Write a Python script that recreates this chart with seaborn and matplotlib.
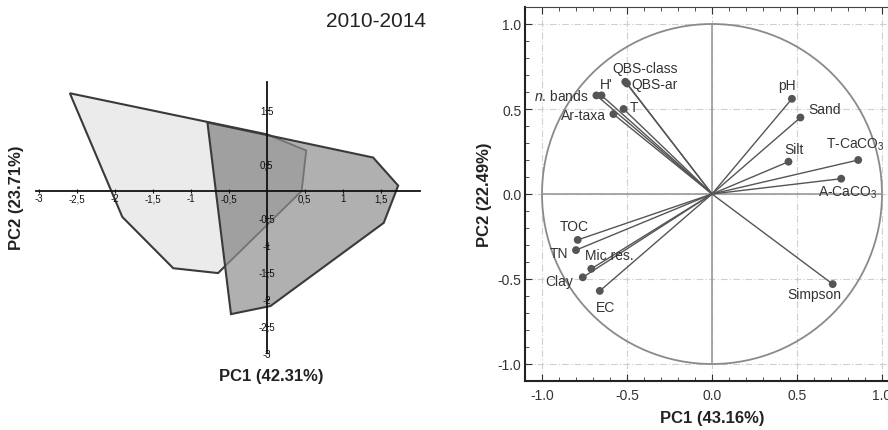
import matplotlib
matplotlib.use("Agg")
import matplotlib.pyplot as plt
import seaborn as sns
from matplotlib.patches import Polygon, Circle
from matplotlib.ticker import FuncFormatter, MultipleLocator

# hull vertices of the two groups (left panel, PC scores)
hull_a_x = [-2.59, 0.0, 0.52, 0.46, -0.64, -1.23, -1.90]
hull_a_y = [1.81, 1.05, 0.75, 0.0, -1.52, -1.43, -0.48]
hull_b_x = [-0.78, 1.40, 1.73, 1.54, 0.05, -0.47]
hull_b_y = [1.27, 0.62, 0.10, -0.59, -2.13, -2.28]

left_xticks = [-3, -2.5, -2, -1.5, -1, -0.5, 0.5, 1, 1.5]
left_yticks = [1.5, 0.5, -0.5, -1, -1.5, -2, -2.5, -3]

# loadings (right panel, correlation circle)
variables = ["QBS-class", "QBS-ar", "H'", "$\\it{n}$. bands", "T", "Ar-taxa",
             "pH", "Sand", "Silt", "T-CaCO$_3$", "A-CaCO$_3$",
             "TOC", "TN", "Mic res.", "Clay", "EC", "Simpson"]
pc1 = [-0.51, -0.50, -0.65, -0.68, -0.52, -0.58,
       0.47, 0.52, 0.45, 0.86, 0.76,
       -0.79, -0.80, -0.71, -0.76, -0.66, 0.71]
pc2 = [0.66, 0.65, 0.58, 0.58, 0.50, 0.47,
       0.56, 0.45, 0.19, 0.20, 0.09,
       -0.27, -0.33, -0.44, -0.49, -0.57, -0.53]

# label offsets in points (dx, dy, ha)
label_pos = [(14.6, 10, 'center'), (3.5, 0, 'left'), (3.6, 7.9, 'center'),
             (-5.5, 0, 'right'), (4.6, 1.4, 'left'), (-5.3, -1, 'right'),
             (-3.6, 10, 'center'), (5.5, 5.8, 'left'), (3.8, 9.1, 'center'),
             (-23.5, 11.5, 'left'), (-17, -9.4, 'left'),
             (-2.4, 10.3, 'center'), (-5.5, -1.9, 'right'), (-4.3, 10, 'left'),
             (-7, -2.7, 'right'), (4, -11.5, 'center'), (-13.4, -7.2, 'center')]

sns.set_theme(style="white")
plt.rcParams['font.family'] = ['Liberation Sans', 'DejaVu Sans']
plt.rcParams['axes.unicode_minus'] = False
plt.rcParams['mathtext.fontset'] = 'custom'
plt.rcParams['mathtext.rm'] = 'Liberation Sans'
plt.rcParams['mathtext.it'] = 'Liberation Sans:italic'

W, H = 888, 431
fig = plt.figure(figsize=(W / 100, H / 100), dpi=100)

# ---------- left panel: group hulls ----------
ax1 = fig.add_axes([23.5 / W, (H - 370.2) / H, 410.4 / W, 297 / H])
ax1.set_xlim(-3.2, 2.2)
ax1.set_ylim(-3.3, 2.2)

pts_a = list(zip(hull_a_x, hull_a_y))
pts_b = list(zip(hull_b_x, hull_b_y))
ax1.add_patch(Polygon(pts_a, closed=True, fc='#ebebeb', ec='#3a3a3a', lw=1.5, zorder=1))
dark = Polygon(pts_b, closed=True, fc='#b0b0b0', ec='none', zorder=1.1)
ax1.add_patch(dark)
overlap = Polygon(pts_a, closed=True, fc='#a0a0a0', ec='#727272', lw=1.3, zorder=1.2)
ax1.add_patch(overlap)
overlap.set_clip_path(dark)
ax1.add_patch(Polygon(pts_b, closed=True, fc='none', ec='#3a3a3a', lw=1.5, zorder=1.3))

for s in ['top', 'right']:
    ax1.spines[s].set_visible(False)
ax1.spines['left'].set_position(('data', 0))
ax1.spines['bottom'].set_position(('data', 0))
ax1.spines['left'].set_bounds(-3.0, 2.02)
ax1.spines['bottom'].set_bounds(-3.03, 2.02)
for s in ['left', 'bottom']:
    ax1.spines[s].set_color('#111111')
    ax1.spines[s].set_linewidth(1.3)
    ax1.spines[s].set_zorder(3)

comma = FuncFormatter(lambda v, p: f"{v:g}".replace('.', ','))
ax1.set_xticks(left_xticks)
ax1.set_yticks(left_yticks)
ax1.xaxis.set_major_formatter(comma)
ax1.yaxis.set_major_formatter(comma)
ax1.tick_params(axis='x', direction='inout', length=3, width=0.8, pad=0,
                labelsize=7, colors='#111111', bottom=True, left=False)
ax1.tick_params(axis='y', direction='inout', length=3, width=0.8, pad=-1.5,
                labelsize=7, colors='#111111', left=True)
for lab in ax1.get_yticklabels():
    lab.set_ha('center')
ax1.set_axisbelow(False)
ax1.patch.set_alpha(0)

fig.text(271.7 / W, 1 - 376.7 / H, "PC1 (42.31%)", ha='center', va='center',
         fontsize=12, fontweight='bold', color='#222222')
fig.text(17 / W, 1 - 197.5 / H, "PC2 (23.71%)", ha='center', va='center',
         rotation=90, fontsize=12, fontweight='bold', color='#222222')
fig.text(375.8 / W, 1 - 21.7 / H, "2010-2014", ha='center', va='center',
         fontsize=15, color='#222222')

# ---------- right panel: correlation circle ----------
ax2 = fig.add_axes([525 / W, 49 / H, 374 / W, 374 / H])
ax2.set_xlim(-1.1, 1.1)
ax2.set_ylim(-1.1, 1.1)

ax2.add_patch(Circle((0, 0), 1, fill=False, ec='#8a8a8a', lw=1.3, zorder=2))
ax2.plot([-1, 1], [0, 0], color='#9a9a9a', lw=1.2, zorder=2)
ax2.plot([0, 0], [-1, 1], color='#9a9a9a', lw=1.2, zorder=2)
for x, y in zip(pc1, pc2):
    ax2.plot([0, x], [0, y], color='#555555', lw=1.0, zorder=3)
sns.scatterplot(x=pc1, y=pc2, ax=ax2, color='#555555', s=32,
                edgecolor='none', zorder=4, legend=False)
for name, x, y, (dx, dy, ha) in zip(variables, pc1, pc2, label_pos):
    ax2.annotate(name, (x, y), xytext=(dx, dy), textcoords='offset points',
                 ha=ha, va='center', fontsize=10, color='#333333', zorder=5)

ax2.xaxis.set_major_locator(MultipleLocator(0.5))
ax2.yaxis.set_major_locator(MultipleLocator(0.5))
ax2.xaxis.set_minor_locator(MultipleLocator(0.1))
ax2.yaxis.set_minor_locator(MultipleLocator(0.1))
fmt = FuncFormatter(lambda v, p: f"{v:.1f}")
ax2.xaxis.set_major_formatter(fmt)
ax2.yaxis.set_major_formatter(fmt)
ax2.tick_params(which='both', direction='in', top=True, right=True,
                bottom=True, left=True, colors='#333333', labelsize=10)
ax2.tick_params(which='major', length=5, width=0.8)
ax2.tick_params(which='minor', length=3, width=0.6)
ax2.tick_params(axis='x', pad=5)
ax2.tick_params(axis='y', pad=2.5)
ax2.grid(True, which='major', ls=(0, (6, 2, 1, 2)), color='#cfcfcf', lw=0.8)
ax2.set_axisbelow(True)
for s in ['left', 'bottom']:
    ax2.spines[s].set_color('#222222')
    ax2.spines[s].set_linewidth(1.5)
for s in ['top', 'right']:
    ax2.spines[s].set_color('#444444')
    ax2.spines[s].set_linewidth(0.8)
ax2.set_xlabel("PC1 (43.16%)", fontsize=12, fontweight='bold', color='#222222', labelpad=6)
ax2.set_ylabel("PC2 (22.49%)", fontsize=12, fontweight='bold', color='#222222', labelpad=4)

fig.savefig("out.png", dpi=100)
